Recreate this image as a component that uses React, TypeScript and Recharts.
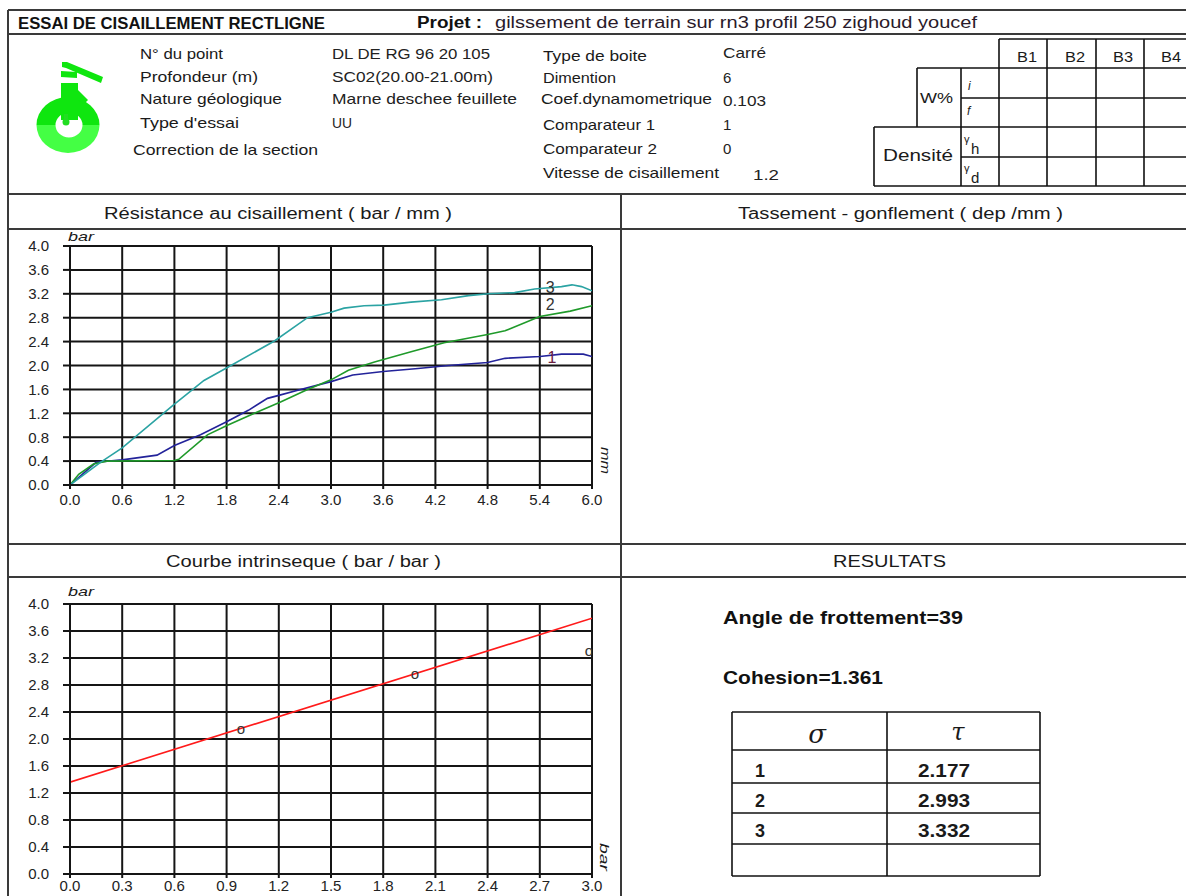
import React from 'react';
import { LineChart, Line, XAxis, YAxis, CartesianGrid, ComposedChart, Scatter, ReferenceDot } from 'recharts';

const FONT = '"Liberation Sans", Arial, sans-serif';

// ---- Chart 1 : Résistance au cisaillement (bar / mm)
const dispTicks = [0, 0.6, 1.2, 1.8, 2.4, 3.0, 3.6, 4.2, 4.8, 5.4, 6.0];
const stressTicks = [0, 0.4, 0.8, 1.2, 1.6, 2.0, 2.4, 2.8, 3.2, 3.6, 4.0];

const curve1X = [0, 0.3, 0.6, 1.0, 1.2, 1.5, 1.8, 2.05, 2.27, 2.4, 2.65, 3.0, 3.25, 3.6, 4.0, 4.35, 4.8, 5.0, 5.4, 5.65, 5.9, 6.0];
const curve1Y = [0, 0.38, 0.42, 0.5, 0.66, 0.84, 1.06, 1.25, 1.45, 1.5, 1.6, 1.73, 1.84, 1.9, 1.95, 2.0, 2.05, 2.12, 2.15, 2.19, 2.19, 2.15];

const curve2X = [0, 0.1, 0.27, 0.42, 1.2, 1.25, 1.58, 1.81, 2.12, 2.42, 2.73, 3.0, 3.2, 3.5, 3.92, 4.3, 4.8, 5.0, 5.4, 5.75, 6.0];
const curve2Y = [0, 0.18, 0.35, 0.4, 0.41, 0.43, 0.84, 1.0, 1.2, 1.39, 1.6, 1.76, 1.92, 2.06, 2.23, 2.38, 2.52, 2.58, 2.82, 2.91, 3.0];

const curve3X = [0, 0.35, 0.6, 1.19, 1.54, 1.85, 2.35, 2.73, 3.0, 3.15, 3.38, 3.61, 3.92, 4.27, 4.58, 4.81, 5.11, 5.34, 5.65, 5.77, 5.88, 6.0];
const curve3Y = [0, 0.38, 0.62, 1.34, 1.75, 2.0, 2.41, 2.8, 2.89, 2.96, 3.0, 3.01, 3.06, 3.1, 3.17, 3.2, 3.22, 3.28, 3.32, 3.35, 3.32, 3.25];

const curveLabels = ['1', '2', '3'];
const curveLabelX = [5.54, 5.52, 5.52];
const curveLabelY = [2.14, 3.03, 3.31];
const curveColors = ['#23239a', '#1f9a2a', '#2ba3a3'];
const curveLabelColors = ['#6b2040', '#333333', '#333333'];

// ---- Chart 2 : Courbe intrinsèque (bar / bar)
const sigmaTicks = [0, 0.3, 0.6, 0.9, 1.2, 1.5, 1.8, 2.1, 2.4, 2.7, 3.0];
const intrinsicX = [0, 3.0];
const intrinsicY = [1.361, 3.79];
const sigmaValues = [1, 2, 3];
const tauValues = [2.177, 2.993, 3.332];

const build = (xs: number[], ys: number[]) => xs.map((x, i) => ({ x, y: ys[i] }));
const curve1 = build(curve1X, curve1Y);
const curve2 = build(curve2X, curve2Y);
const curve3 = build(curve3X, curve3Y);
const curves = [curve1, curve2, curve3];
const intrinsicLine = build(intrinsicX, intrinsicY);
const tests = build(sigmaValues, tauValues);

const fmt = (v: number) => v.toFixed(1);
const tickStyle = { fontSize: 15, fill: '#222', fontFamily: FONT };
const gridColor = '#151515';

type TProps = { x: number; y: number; w?: number; size?: number; bold?: boolean; italic?: boolean; anchor?: string; fill?: string; children: React.ReactNode; family?: string };
const T = ({ x, y, w, size = 15, bold, italic, anchor, fill = '#1a1a1a', children, family }: TProps) => (
  <text
    x={x}
    y={y}
    fontSize={size}
    fontWeight={bold ? 'bold' : 'normal'}
    fontStyle={italic ? 'italic' : 'normal'}
    textAnchor={anchor || 'start'}
    fill={fill}
    fontFamily={family || FONT}
    {...(w ? { textLength: w, lengthAdjust: 'spacingAndGlyphs' } : {})}
  >
    {children}
  </text>
);

const L = ({ x1, y1, x2, y2, w = 2, c = '#3a3a3a' }: { x1: number; y1: number; x2: number; y2: number; w?: number; c?: string }) => (
  <line x1={x1} y1={y1} x2={x2} y2={y2} stroke={c} strokeWidth={w} />
);

const Frame = () => (
  <svg width={1186} height={896} style={{ position: 'absolute', left: 0, top: 0 }}>
    {/* main frame */}
    <L x1={8} y1={10} x2={1186} y2={10} />
    <L x1={8} y1={10} x2={8} y2={896} />
    <L x1={8} y1={34} x2={1186} y2={34} />
    <L x1={8} y1={194} x2={1186} y2={194} />
    <L x1={8} y1={229} x2={1186} y2={229} />
    <L x1={621} y1={194} x2={621} y2={896} />
    <L x1={8} y1={544} x2={1186} y2={544} />
    <L x1={8} y1={577} x2={1186} y2={577} />

    {/* title row */}
    <T x={18} y={29} w={307} size={16.5} bold fill="#111">ESSAI DE CISAILLEMENT RECTLIGNE</T>
    <T x={417} y={28} w={65} size={16} bold fill="#111">Projet :</T>
    <T x={495} y={28} w={482} size={16} fill="#2a1a2a">gilssement de terrain sur rn3 profil 250 zighoud youcef</T>

    {/* logo */}
    <g>
      <path d="M 68 97 A 31.5 28 0 0 1 99.5 125 L 82.5 125 A 13.5 12.5 0 0 0 55.5 125 L 36.5 125 A 31.5 28 0 0 1 68 97 Z" fill="#0fe60f" />
      <path d="M 36.5 125 A 31.5 28 0 0 0 99.5 125 L 82.5 125 A 13.5 12.5 0 0 1 55.5 125 Z" fill="#44ff44" />
      <rect x={61} y={83} width={17} height={37} fill="#0fe60f" />
      <polygon points="78,90 88,100 84,104 78,100" fill="#0fe60f" />
      <polygon points="61,71 77,72 77,78 61,77" fill="#0fe60f" />
      <polygon points="62,62 67,62 103,77 101,83 66,68 62,67" fill="#0fe60f" />
      <circle cx={66} cy={122} r={3.5} fill="#22dd22" />
      <rect x={64} y={114} width={4} height={8} fill="#22dd22" />
    </g>

    {/* identification */}
    <T x={140} y={59} w={83}>N° du point</T>
    <T x={140} y={82} w={118}>Profondeur (m)</T>
    <T x={140} y={104} w={142}>Nature géologique</T>
    <T x={140} y={128} w={99}>Type d'essai</T>
    <T x={133} y={155} w={185}>Correction de la section</T>
    <T x={332} y={59} w={158} fill="#222">DL DE RG 96 20 105</T>
    <T x={332} y={82} w={161} fill="#222">SC02(20.00-21.00m)</T>
    <T x={332} y={104} w={185} fill="#222">Marne deschee feuillete</T>
    <T x={332} y={128} w={20} fill="#222">UU</T>

    <T x={543} y={61} w={104}>Type de boite</T>
    <T x={543} y={83} w={73}>Dimention</T>
    <T x={541} y={104} w={171}>Coef.dynamometrique</T>
    <T x={543} y={130} w={112}>Comparateur 1</T>
    <T x={543} y={154} w={114}>Comparateur 2</T>
    <T x={543} y={178} w={176}>Vitesse de cisaillement</T>
    <T x={723} y={58} w={43} fill="#222">Carré</T>
    <T x={723} y={83} fill="#222">6</T>
    <T x={723} y={106} w={43} fill="#222">0.103</T>
    <T x={723} y={130} fill="#222">1</T>
    <T x={723} y={154} fill="#222">0</T>
    <T x={753} y={180} w={26} fill="#222">1.2</T>

    {/* top right table */}
    <g>
      <L x1={999} y1={39} x2={1186} y2={39} w={1.6} c="#111" />
      <L x1={917} y1={68} x2={1186} y2={68} w={1.6} c="#111" />
      <L x1={961} y1={98} x2={1186} y2={98} w={1.6} c="#111" />
      <L x1={874} y1={127} x2={1186} y2={127} w={1.6} c="#111" />
      <L x1={961} y1={157} x2={1186} y2={157} w={1.6} c="#111" />
      <L x1={874} y1={186} x2={1186} y2={186} w={1.6} c="#111" />
      <L x1={999} y1={39} x2={999} y2={186} w={1.6} c="#111" />
      <L x1={1047} y1={39} x2={1047} y2={186} w={1.6} c="#111" />
      <L x1={1096} y1={39} x2={1096} y2={186} w={1.6} c="#111" />
      <L x1={1144} y1={39} x2={1144} y2={186} w={1.6} c="#111" />
      <L x1={961} y1={68} x2={961} y2={186} w={1.6} c="#111" />
      <L x1={917} y1={68} x2={917} y2={127} w={1.6} c="#111" />
      <L x1={874} y1={127} x2={874} y2={186} w={1.6} c="#111" />
      <T x={1017} y={62} w={20} size={14}>B1</T>
      <T x={1065} y={62} w={20} size={14}>B2</T>
      <T x={1113} y={62} w={20} size={14}>B3</T>
      <T x={1161} y={62} w={20} size={14}>B4</T>
      <T x={920} y={103} w={33} size={14}>W%</T>
      <T x={968} y={90} size={12} italic>i</T>
      <T x={967} y={115} size={12} italic>f</T>
      <T x={883} y={161} w={70} size={17}>Densité</T>
      <T x={964} y={143} size={11}>γ</T>
      <T x={971} y={154} size={15}>h</T>
      <T x={964} y={172} size={11}>γ</T>
      <T x={971} y={183} size={15}>d</T>
    </g>

    {/* panel titles */}
    <T x={104} y={219} w={348} size={16}>Résistance au cisaillement ( bar / mm )</T>
    <T x={738} y={219} w={325} size={16}>Tassement - gonflement ( dep /mm )</T>
    <T x={166} y={567} w={275} size={16}>Courbe intrinseque ( bar  / bar )</T>
    <T x={833} y={567} w={113} size={16}>RESULTATS</T>

    {/* axis units */}
    <T x={68} y={241} w={26} size={13} italic>bar</T>
    <g transform="translate(601,447) rotate(90)">
      <T x={0} y={0} w={27} size={13} italic>mm</T>
    </g>
    <T x={68} y={596} w={26} size={13} italic>bar</T>
    <g transform="translate(600,843) rotate(90)">
      <T x={0} y={0} w={28} size={13} italic>bar</T>
    </g>

    {/* results */}
    <T x={723} y={624} w={240} size={19} bold fill="#111">Angle de frottement=39</T>
    <T x={723} y={684} w={160} size={19} bold fill="#111">Cohesion=1.361</T>
    <g>
      <L x1={732} y1={712} x2={1040} y2={712} w={1.6} c="#111" />
      <L x1={732} y1={750} x2={1040} y2={750} w={1.6} c="#111" />
      <L x1={732} y1={783} x2={1040} y2={783} w={1.6} c="#111" />
      <L x1={732} y1={813} x2={1040} y2={813} w={1.6} c="#111" />
      <L x1={732} y1={844} x2={1040} y2={844} w={1.6} c="#111" />
      <L x1={732} y1={876} x2={1040} y2={876} w={1.6} c="#111" />
      <L x1={732} y1={712} x2={732} y2={876} w={1.6} c="#111" />
      <L x1={887} y1={712} x2={887} y2={876} w={1.6} c="#111" />
      <L x1={1040} y1={712} x2={1040} y2={876} w={1.6} c="#111" />
      <T x={817} y={743} size={26} italic anchor="middle" family='"DejaVu Serif", serif'>σ</T>
      <T x={958} y={740} size={24} italic anchor="middle" family='"DejaVu Serif", serif'>τ</T>
      <T x={755} y={777} w={10} size={18} bold>1</T>
      <T x={755} y={807} w={10} size={18} bold>2</T>
      <T x={755} y={837} w={10} size={18} bold>3</T>
      <T x={918} y={777} w={52} size={18} bold>2.177</T>
      <T x={918} y={807} w={52} size={18} bold>2.993</T>
      <T x={918} y={837} w={52} size={18} bold>3.332</T>
    </g>
  </svg>
);

const axisLine = { stroke: gridColor, strokeWidth: 2 };

const ShearChart = () => (
  <div style={{ position: 'absolute', left: 0, top: 229 }}>
    <LineChart width={620} height={315} margin={{ top: 17, right: 28, left: 0, bottom: 0 }}>
      <CartesianGrid stroke={gridColor} strokeWidth={2} />
      <XAxis
        type="number"
        dataKey="x"
        domain={[0, 6]}
        ticks={dispTicks}
        interval={0}
        tickFormatter={fmt}
        height={59}
        tickSize={4}
        tickMargin={5}
        axisLine={axisLine}
        tickLine={axisLine}
        tick={tickStyle}
        allowDataOverflow
      />
      <YAxis
        type="number"
        dataKey="y"
        domain={[0, 4]}
        ticks={stressTicks}
        interval={0}
        tickFormatter={fmt}
        width={70}
        tickSize={7}
        tickMargin={14}
        axisLine={axisLine}
        tickLine={axisLine}
        tick={tickStyle}
        allowDataOverflow
      />
      {curves.map((c, i) => (
        <Line
          key={i}
          data={c}
          dataKey="y"
          type="linear"
          stroke={curveColors[i]}
          strokeWidth={1.6}
          dot={false}
          isAnimationActive={false}
        />
      ))}
      {curveLabels.map((lab, i) => (
        <ReferenceDot
          key={lab}
          x={curveLabelX[i]}
          y={curveLabelY[i]}
          r={0}
          ifOverflow="visible"
          shape={(p: any) => (
            <text x={p.cx} y={p.cy + 6} textAnchor="middle" fontSize={16} fontFamily={FONT} fill={curveLabelColors[i]}>
              {lab}
            </text>
          )}
        />
      ))}
    </LineChart>
  </div>
);

const IntrinsicChart = () => (
  <div style={{ position: 'absolute', left: 0, top: 577 }}>
    <ComposedChart width={620} height={319} margin={{ top: 27, right: 28, left: 0, bottom: 0 }}>
      <CartesianGrid stroke={gridColor} strokeWidth={2} />
      <XAxis
        type="number"
        dataKey="x"
        domain={[0, 3]}
        ticks={sigmaTicks}
        interval={0}
        tickFormatter={fmt}
        height={22}
        tickSize={4}
        tickMargin={2}
        axisLine={axisLine}
        tickLine={axisLine}
        tick={tickStyle}
        allowDataOverflow
      />
      <YAxis
        type="number"
        dataKey="y"
        domain={[0, 4]}
        ticks={stressTicks}
        interval={0}
        tickFormatter={fmt}
        width={70}
        tickSize={7}
        tickMargin={14}
        axisLine={axisLine}
        tickLine={axisLine}
        tick={tickStyle}
        allowDataOverflow
      />
      <Line
        data={intrinsicLine}
        dataKey="y"
        type="linear"
        stroke="#ff1a1a"
        strokeWidth={1.6}
        dot={false}
        isAnimationActive={false}
      />
      <Scatter
        data={tests}
        dataKey="y"
        isAnimationActive={false}
        shape={(p: any) => (
          <text x={p.cx - 3} y={p.cy + 7} textAnchor="middle" fontSize={15} fontFamily={FONT} fill="#333">
            o
          </text>
        )}
      />
    </ComposedChart>
  </div>
);

export default function App() {
  return (
    <div style={{ position: 'absolute', left: 0, top: 0, width: 1186, height: 896, overflow: 'hidden', background: '#fff', fontFamily: FONT }}>
      <Frame />
      <ShearChart />
      <IntrinsicChart />
    </div>
  );
}
